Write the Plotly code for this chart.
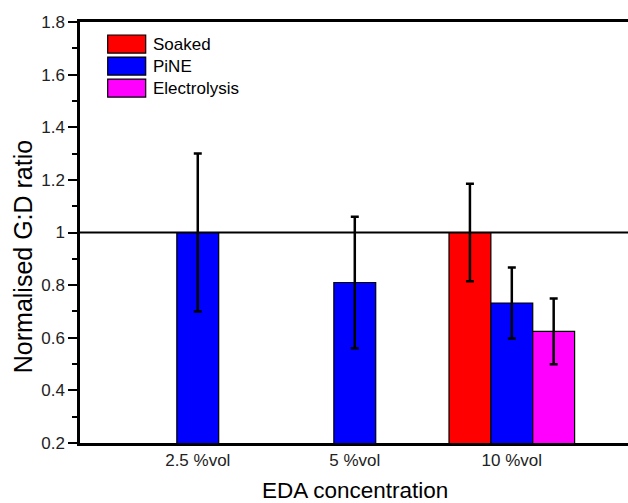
import plotly.graph_objects as go

categories = ["2.5 %vol", "5 %vol", "10 %vol"]
series_names = ["Soaked", "PiNE", "Electrolysis"]
soaked = [None, None, 1.0]
soaked_err = [None, None, 0.185]
pine = [1.0, 0.81, 0.732]
pine_err = [0.3, 0.25, 0.135]
electrolysis = [None, None, 0.624]
electrolysis_err = [None, None, 0.125]
colors = ["#ff0000", "#0000ff", "#ff00ff"]
y_ticks = [0.2, 0.4, 0.6, 0.8, 1.0, 1.2, 1.4, 1.6, 1.8]
y_tick_text = ["0.2", "0.4", "0.6", "0.8", "1", "1.2", "1.4", "1.6", "1.8"]

values = [soaked, pine, electrolysis]
errors = [soaked_err, pine_err, electrolysis_err]

FONT = "Liberation Sans, Arial, sans-serif"
PW = 548.0
PH = 420.6

fig = go.Figure()
for name, vals, errs, col in zip(series_names, values, errors, colors):
    fig.add_trace(go.Bar(
        x=categories, y=vals, name=name,
        marker=dict(color=col, line=dict(color="black", width=1.2)),
        error_y=dict(type="data", array=errs, visible=True, color="black",
                     thickness=2.5, width=4),
        showlegend=False,
    ))

# reference line at 1
fig.add_shape(type="line", xref="paper", yref="y", x0=0, x1=1, y0=1, y1=1,
              line=dict(color="black", width=2))

# custom legend
row_h = 22 / PH
top = 1 - (35 - 22) / PH
bw = 38 / PW
bx0 = (107.7 - 80) / PW
bh = 18 / PH
for i, (name, col) in enumerate(zip(series_names, colors)):
    y1 = top - i * row_h
    fig.add_shape(type="rect", xref="paper", yref="paper",
                  x0=bx0, x1=bx0 + bw, y0=y1 - bh, y1=y1,
                  fillcolor=col, line=dict(color="black", width=1.2))
    fig.add_annotation(xref="paper", yref="paper", x=bx0 + bw + 5 / PW,
                       y=y1 - bh / 2, text=name, showarrow=False,
                       xanchor="left", yanchor="middle",
                       font=dict(family=FONT, size=17, color="black"))

fig.add_annotation(xref="paper", yref="paper", x=(23 - 80) / PW,
                   y=1 - (257 - 22) / PH,
                   text="Normalised G:D ratio", textangle=-90, showarrow=False,
                   xanchor="center", yanchor="middle",
                   font=dict(family=FONT, size=25, color="black"))
fig.add_annotation(xref="paper", yref="paper", x=(355 - 80) / PW,
                   y=-(490 - 442.6) / PH,
                   text="EDA concentration", showarrow=False,
                   xanchor="center", yanchor="middle",
                   font=dict(family=FONT, size=22.5, color="black"))

fig.update_layout(
    width=628, height=503,
    margin=dict(l=80, r=0, t=22, b=60),
    plot_bgcolor="white", paper_bgcolor="white",
    barmode="group", bargap=0.2, bargroupgap=0,
    font=dict(family=FONT, size=17, color="black"),
    showlegend=False,
)
fig.update_xaxes(
    range=[-0.75, 2.74], showline=True, linecolor="black", linewidth=2.5,
    mirror=True, ticks="", showgrid=False, zeroline=False,
    tickfont=dict(family=FONT, size=17, color="#222"), automargin=False,
)
fig.update_yaxes(
    range=[0.2, 1.8], tickvals=y_ticks, ticktext=y_tick_text,
    showline=True, linecolor="black", linewidth=2.5, mirror=False,
    ticks="outside", ticklen=9, tickwidth=2, tickcolor="black",
    minor=dict(ticks="outside", ticklen=5, tickwidth=2, tickcolor="black", dtick=0.1),
    showgrid=False, zeroline=False,
    tickfont=dict(family=FONT, size=17, color="#222"), automargin=False,
)

fig.write_html("out.html", config={"displayModeBar": False},
               post_script="document.body.style.margin='0';document.body.style.overflow='hidden';")
